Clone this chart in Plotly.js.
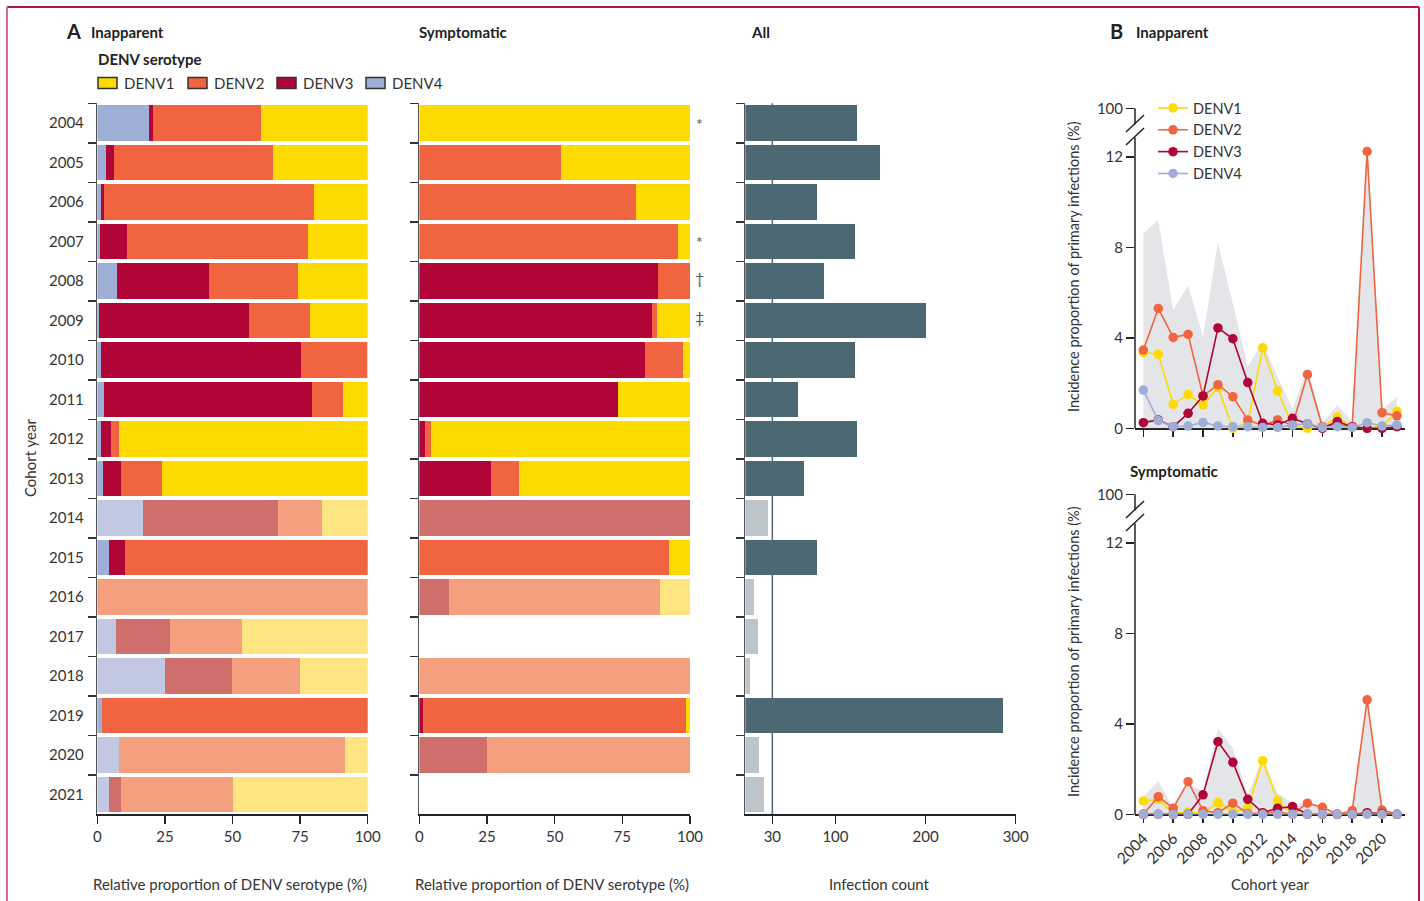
<!DOCTYPE html>
<html>
<head>
<meta charset="utf-8">
<script src="https://cdn.plot.ly/plotly-3.0.1.min.js"></script>
<style>
html,body{margin:0;padding:0;background:#fff;}
#chart{width:1424px;height:901px;}
</style>
</head>
<body>
<div id="chart"></div>
<script>
// ---------------- DATA ----------------
const years = [2004,2005,2006,2007,2008,2009,2010,2011,2012,2013,2014,2015,2016,2017,2018,2019,2020,2021];
const yearLabels = years.map(String);
const serotypes = ['DENV1','DENV2','DENV3','DENV4'];

// Panel A – Inapparent: relative proportion of serotype (%)
const inappDENV1 = [39.5,35.0,19.9,22.1,25.8,21.3,0.2,9.1,92.0,76.1,16.9,0,0,46.5,25.0,0,8.4,50.0];
const inappDENV2 = [39.9,58.8,77.6,66.9,32.9,22.6,24.5,11.5,2.9,15.1,16.4,89.8,100,26.6,25.2,98.3,83.5,41.1];
const inappDENV3 = [1.5,3.0,1.1,10.0,34.0,55.5,73.9,76.9,3.7,6.7,49.8,5.9,0,20.0,24.8,0,0,4.6];
const inappDENV4 = [19.1,3.2,1.4,1.0,7.3,0.6,1.4,2.5,1.4,2.1,16.9,4.3,0,6.9,25.0,1.7,8.1,4.3];

// Panel A – Symptomatic: relative proportion of serotype (%), null = no symptomatic infections
const sympDENV1 = [100,47.7,20.0,4.4,0,12.2,2.6,26.6,95.7,63.2,0,7.7,11.2,null,0,1.5,0,null];
const sympDENV2 = [0,52.3,80.0,95.6,11.8,1.8,14.0,0,2.2,10.3,0,92.3,77.8,null,100,97.1,75.0,null];
const sympDENV3 = [0,0,0,0,88.2,86.0,83.4,73.4,2.1,26.5,100,0,11.0,null,0,1.4,25.0,null];
const sympDENV4 = [0,0,0,0,0,0,0,0,0,0,0,0,0,null,0,0,0,null];

// Panel A – All: infection count
const infectionCount = [124,150,79,122,87,201,122,59,124,65,25,80,10,14,5,286,15,21];
const countThreshold = 30;

// Footnote marks on symptomatic bars
const noteYears = [2004,2007,2008,2009];
const noteMarks = ['*','*','\u2020','\u2021'];

// Panel B – Inapparent incidence proportion of primary infections (%)
const bInappDENV1 = [3.35,3.27,1.06,1.49,1.04,1.80,0.0,0.25,3.56,1.65,0.12,0.0,0.05,0.5,0.05,0.0,0.1,0.75];
const bInappDENV2 = [3.46,5.30,4.02,4.15,1.43,1.93,1.40,0.37,0.12,0.37,0.15,2.38,0.07,0.2,0.07,12.24,0.69,0.55];
const bInappDENV3 = [0.25,0.37,0.07,0.66,1.43,4.44,3.96,2.02,0.22,0.15,0.44,0.2,0.0,0.3,0.07,0.0,0.0,0.07];
const bInappDENV4 = [1.69,0.34,0.07,0.1,0.26,0.1,0.07,0.07,0.04,0.04,0.15,0.2,0.04,0.07,0.04,0.25,0.1,0.15];
const bInappUpper = [8.64,9.2,5.22,6.33,4.05,8.2,5.52,2.72,3.83,2.25,0.88,2.65,0.22,1.03,0.29,12.7,0.8,1.4];

// Panel B – Symptomatic incidence proportion of primary infections (%)
const bSympDENV1 = [0.59,0.66,0.04,0.1,0.04,0.52,0.1,0.27,2.37,0.6,0.04,0,0,0,0,0.04,0,0];
const bSympDENV2 = [0,0.78,0.27,1.44,0.16,0.07,0.49,0.04,0.04,0.1,0,0.49,0.31,0,0.16,5.06,0.19,0];
const bSympDENV3 = [0,0,0,0,0.86,3.21,2.3,0.66,0.07,0.27,0.34,0,0,0,0,0.07,0.04,0];
const bSympDENV4 = [0,0,0,0,0,0,0,0,0,0,0,0,0,0,0,0,0,0];
const bSympUpper = [0.78,1.47,0.27,1.4,1.0,3.8,2.92,0.86,2.5,0.93,0.49,0.49,0.27,0.0,0.19,5.13,0.27,0.04];

// ---------------- STYLE ----------------
const W = 1424, H = 901;
const FONT = 'Lato, "Noto Sans", sans-serif';
const TXT = '#333333';
const darkCol = {DENV1:'#FDDA00', DENV2:'#F06440', DENV3:'#B00536', DENV4:'#9FAED6'};
const lightCol = {DENV1:'#FEE582', DENV2:'#F4A07F', DENV3:'#CF6F6C', DENV4:'#C1C8E2'};
const allDark = '#4C6873', allLight = '#BDC4CA';

const px = x => x / W;
const py = y => 1 - y / H;

const inapp = {DENV1:inappDENV1, DENV2:inappDENV2, DENV3:inappDENV3, DENV4:inappDENV4};
const symp = {DENV1:sympDENV1, DENV2:sympDENV2, DENV3:sympDENV3, DENV4:sympDENV4};
const bInapp = {DENV1:bInappDENV1, DENV2:bInappDENV2, DENV3:bInappDENV3, DENV4:bInappDENV4};
const bSymp = {DENV1:bSympDENV1, DENV2:bSympDENV2, DENV3:bSympDENV3, DENV4:bSympDENV4};

const faded = infectionCount.map(c => c < countThreshold);

const traces = [];
const stackOrder = ['DENV4','DENV3','DENV2','DENV1'];
stackOrder.forEach(s => {
  const cols = faded.map(f => f ? lightCol[s] : darkCol[s]);
  traces.push({type:'bar', orientation:'h', y:yearLabels, x:inapp[s], name:s,
    marker:{color:cols, line:{width:0}}, xaxis:'x', yaxis:'y', showlegend:false, hoverinfo:'x+y+name'});
  traces.push({type:'bar', orientation:'h', y:yearLabels, x:symp[s], name:s,
    marker:{color:cols, line:{width:0}}, xaxis:'x2', yaxis:'y2', showlegend:false, hoverinfo:'x+y+name'});
});
traces.push({type:'bar', orientation:'h', y:yearLabels, x:infectionCount, name:'Infection count',
  marker:{color:faded.map(f => f ? allLight : allDark), line:{width:0}},
  xaxis:'x3', yaxis:'y3', showlegend:false});

// Panel B bands
traces.push({type:'scatter', mode:'lines', x:years, y:bInappUpper, fill:'tozeroy',
  fillcolor:'#E4E5E8', line:{width:0, color:'#E4E5E8'}, xaxis:'x4', yaxis:'y4', showlegend:false, hoverinfo:'skip'});
traces.push({type:'scatter', mode:'lines', x:years, y:bSympUpper, fill:'tozeroy',
  fillcolor:'#E4E5E8', line:{width:0, color:'#E4E5E8'}, xaxis:'x5', yaxis:'y5', showlegend:false, hoverinfo:'skip'});

serotypes.forEach(s => {
  traces.push({type:'scatter', mode:'lines+markers', x:years, y:bInapp[s], name:s,
    line:{color:darkCol[s], width:1.6}, marker:{color:darkCol[s], size:9.5},
    xaxis:'x4', yaxis:'y4', cliponaxis:false, showlegend:true, legendgroup:s});
  traces.push({type:'scatter', mode:'lines+markers', x:years, y:bSymp[s], name:s,
    line:{color:darkCol[s], width:1.6}, marker:{color:darkCol[s], size:9.5},
    xaxis:'x5', yaxis:'y5', cliponaxis:false, showlegend:false, legendgroup:s});
});

// ---------------- AXES ----------------
const yTop = 103.3, yBot = 814.3;
const tickFont = {family:FONT, size:15, color:TXT};
function catAxis(showLabels, anchor) {
  return {domain:[py(yBot), py(yTop)], type:'category', categoryarray:yearLabels,
    range:[17.5,-0.5], tickson:'boundaries', ticks:'outside', ticklen:8, tickwidth:1.5,
    tickcolor:'#333', showline:true, linecolor:'#555', linewidth:1.5, showgrid:false,
    zeroline:false, showticklabels:showLabels, ticklabelstandoff:9, tickfont:tickFont, anchor:anchor, fixedrange:true};
}
function valAxis(x0, x1, range, tickvals, anchor) {
  return {domain:[px(x0), px(x1)], range:range, tickvals:tickvals, ticks:'outside', ticklen:8,
    tickwidth:1.5, tickcolor:'#222', showline:true, linecolor:'#222', linewidth:2,
    showgrid:false, zeroline:false, tickfont:tickFont, anchor:anchor, fixedrange:true, layer:'below traces'};
}

const bTickVals = [0,4,8,12,14.15];
const bTickText = ['0','4','8','12','100'];
function bYAxis(y0, y1, anchor) {
  return {domain:[py(y0), py(y1)], range:[0,14.15], tickvals:bTickVals, ticktext:bTickText,
    ticks:'outside', ticklen:8, tickwidth:1.5, tickcolor:'#222', showline:false, showgrid:false,
    zeroline:false, tickfont:tickFont, anchor:anchor, fixedrange:true};
}
function bXAxis(showLabels, anchor) {
  return {domain:[px(1135), px(1405)], range:[2003.44, 2021.54], tickvals:[2004,2006,2008,2010,2012,2014,2016,2018,2020],
    tickangle:-45, ticks:'outside', ticklen:7, tickwidth:1.5, tickcolor:'#222', showline:true,
    linecolor:'#222', linewidth:2, showgrid:false, zeroline:false, showticklabels:showLabels,
    tickfont:{family:FONT, size:15.5, color:TXT}, anchor:anchor, fixedrange:true, layer:'below traces'};
}

// ---------------- ANNOTATIONS ----------------
function txt(text, x, y, o) {
  o = o || {};
  return {text:text, x:px(x), y:py(y), xref:'paper', yref:'paper', showarrow:false,
    xanchor:o.xa || 'left', yanchor:'middle', textangle:o.angle || 0,
    font:{family:FONT, size:o.size || 15, color:o.color || TXT, weight:o.bold ? 700 : 400}};
}
const B = t => '<b>' + t + '</b>';
const annotations = [
  txt(B('A'), 64, 31, {size:20, color:'#222'}),
  txt(B('Inapparent'), 89, 32, {color:'#222'}),
  txt(B('Symptomatic'), 417, 32, {color:'#222'}),
  txt(B('All'), 749, 32, {color:'#222'}),
  txt(B('B'), 1108, 31, {size:20, color:'#222'}),
  txt(B('Inapparent'), 1134, 32, {color:'#222'}),
  txt(B('Symptomatic'), 1128, 471, {color:'#222'}),
  txt(B('DENV serotype'), 96, 59, {color:'#222'}),
  txt('Cohort year', 30, 458, {xa:'center', angle:-90}),
  txt('Relative proportion of DENV serotype (%)', 230, 884, {xa:'center'}),
  txt('Relative proportion of DENV serotype (%)', 552, 884, {xa:'center'}),
  txt('Infection count', 880, 884, {xa:'center'}),
  txt('Cohort year', 1270, 884, {xa:'center'}),
  txt('Incidence proportion of primary infections (%)', 1073, 267, {xa:'center', angle:-90, size:14.5}),
  txt('Incidence proportion of primary infections (%)', 1073, 652, {xa:'center', angle:-90, size:14.5})
];
// legend for panel A (manual)
const legBoxX = [98, 188, 277, 366];
const shapes = [];
serotypes.forEach((s, i) => {
  shapes.push({type:'rect', xref:'paper', yref:'paper', x0:px(legBoxX[i]), x1:px(legBoxX[i] + 19),
    y0:py(88.5), y1:py(77.5), fillcolor:darkCol[s], line:{color:'#333', width:1.5}});
  annotations.push(txt(s, legBoxX[i] + 24, 83, {}));
});
// footnote marks
noteYears.forEach((yr, i) => {
  annotations.push({text:noteMarks[i], xref:'paper', x:px(699), yref:'y2', y:years.indexOf(yr),
    yshift: noteMarks[i] === '*' ? 0 : 4,
    showarrow:false, xanchor:'center', yanchor:'middle', font:{family:FONT, size:16, color:'#555'}});
});

// threshold line in "All" panel
shapes.push({type:'line', xref:'x3', x0:countThreshold, x1:countThreshold, yref:'y3 domain', y0:0, y1:1,
  line:{color:allDark, width:1.5}, layer:'below'});

// broken y axes in panel B (decoration in pixel space)
function brokenAxis(off) {
  const ax = 1135;
  const l = (x0,y0,x1,y1) => ({type:'line', xref:'paper', yref:'paper', x0:px(x0), y0:py(y0 + off),
    x1:px(x1), y1:py(y1 + off), line:{color:'#222', width:1.5}});
  return [l(ax, 428.3, ax, 137.5), l(ax, 124.5, ax, 108.3),
          l(1126, 132, 1144, 115), l(1126, 145, 1144, 128)];
}
shapes.push(...brokenAxis(0), ...brokenAxis(386));

// page frame
shapes.push({type:'line', xref:'paper', yref:'paper', x0:px(7), x1:px(1419), y0:py(7), y1:py(7), line:{color:'#B5163F', width:2}});
shapes.push({type:'line', xref:'paper', yref:'paper', x0:px(7), x1:px(7), y0:py(7), y1:0, line:{color:'#DD6A8A', width:2}});
shapes.push({type:'line', xref:'paper', yref:'paper', x0:px(1419), x1:px(1419), y0:py(7), y1:0, line:{color:'#B5163F', width:2}});

const layout = {
  width:W, height:H, margin:{l:0, r:0, t:0, b:0}, paper_bgcolor:'#fff', plot_bgcolor:'rgba(0,0,0,0)',
  font:{family:FONT, color:TXT},
  barmode:'stack', bargap:0.1,
  xaxis: valAxis(97.3, 367.7, [0,100], [0,25,50,75,100], 'y'),
  yaxis: catAxis(true, 'x'),
  xaxis2: valAxis(419.3, 690, [0,100], [0,25,50,75,100], 'y2'),
  yaxis2: catAxis(false, 'x2'),
  xaxis3: valAxis(745.3, 1015.7, [0,300], [30,100,200,300], 'y3'),
  yaxis3: catAxis(false, 'x3'),
  xaxis4: bXAxis(false, 'y4'),
  yaxis4: bYAxis(428.3, 108.3, 'x4'),
  xaxis5: bXAxis(true, 'y5'),
  yaxis5: bYAxis(814.3, 494.3, 'x5'),
  showlegend:true,
  legend:{x:px(1153), y:py(92), xanchor:'left', yanchor:'top', bgcolor:'rgba(0,0,0,0)',
    font:{family:FONT, size:14.5, color:TXT}, traceorder:'normal', itemclick:false, itemdoubleclick:false},
  annotations:annotations,
  shapes:shapes
};

Plotly.newPlot('chart', traces, layout, {displayModeBar:false, staticPlot:true});
</script>
</body>
</html>
